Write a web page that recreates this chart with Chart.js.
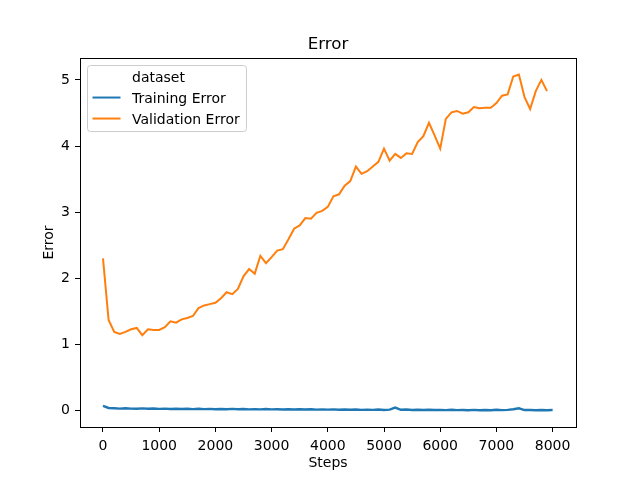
<!DOCTYPE html>
<html>
<head>
<meta charset="utf-8">
<script src="https://cdn.jsdelivr.net/npm/chart.js@4.4.1/dist/chart.umd.min.js"></script>
<style>
html,body{margin:0;padding:0;background:#fff;}
#wrap{width:640px;height:480px;}
</style>
</head>
<body>
<div id="wrap"><canvas id="c" width="640" height="480"></canvas></div>
<script>
const chartTitle = "Error";
const xLabel = "Steps";
const yLabel = "Error";
const legendTitle = "dataset";
const seriesNames = ["Training Error", "Validation Error"];
const seriesColors = ["#1f77b4", "#ff7f0e"];

const xTicks = [0, 1000, 2000, 3000, 4000, 5000, 6000, 7000, 8000];
const yTicks = [0, 1, 2, 3, 4, 5];

const trainSteps = [0,100,200,300,400,500,600,700,800,900,
  1000,1100,1200,1300,1400,1500,1600,1700,1800,1900,
  2000,2100,2200,2300,2400,2500,2600,2700,2800,2900,
  3000,3100,3200,3300,3400,3500,3600,3700,3800,3900,
  4000,4100,4200,4300,4400,4500,4600,4700,4800,4900,
  5000,5100,5200,5300,5400,5500,5600,5700,5800,5900,
  6000,6100,6200,6300,6400,6500,6600,6700,6800,6900,
  7000,7100,7200,7300,7400,7500,7600,7700,7800,7900,8000];

const trainError = [0.070,0.040,0.035,0.030,0.035,0.030,0.028,0.033,0.027,0.031,
  0.026,0.030,0.025,0.029,0.024,0.028,0.023,0.027,0.022,0.026,
  0.021,0.025,0.020,0.026,0.020,0.023,0.019,0.022,0.018,0.023,
  0.018,0.021,0.017,0.021,0.016,0.020,0.016,0.021,0.015,0.019,
  0.014,0.018,0.013,0.017,0.012,0.016,0.011,0.015,0.011,0.016,
  0.010,0.014,0.045,0.012,0.016,0.009,0.013,0.008,0.012,0.008,
  0.011,0.007,0.012,0.007,0.010,0.006,0.011,0.006,0.010,0.006,
  0.012,0.007,0.011,0.020,0.035,0.008,0.010,0.006,0.009,0.006,0.008];

const valSteps = [0,100,200,300,400,500,600,700,800,900,
  1000,1100,1200,1300,1400,1500,1600,1700,1800,1900,
  2000,2100,2200,2300,2400,2500,2600,2700,2800,2900,
  3000,3100,3200,3300,3400,3500,3600,3700,3800,3900,
  4000,4100,4200,4300,4400,4500,4600,4700,4800,4900,
  5000,5100,5200,5300,5400,5500,5600,5700,5800,5900,
  6000,6100,6200,6300,6400,6500,6600,6700,6800,6900,
  7000,7100,7200,7300,7400,7500,7600,7700,7800,7900];

const valError = [2.30,1.37,1.19,1.16,1.19,1.23,1.25,1.14,1.23,1.22,
  1.22,1.26,1.35,1.33,1.38,1.40,1.43,1.55,1.59,1.61,
  1.63,1.70,1.79,1.76,1.84,2.03,2.14,2.07,2.34,2.23,
  2.32,2.42,2.44,2.59,2.75,2.80,2.91,2.90,2.99,3.02,
  3.08,3.24,3.27,3.40,3.47,3.69,3.58,3.62,3.69,3.76,
  3.96,3.78,3.88,3.82,3.89,3.88,4.06,4.15,4.35,4.16,
  3.96,4.41,4.51,4.53,4.49,4.51,4.59,4.57,4.58,4.58,
  4.65,4.76,4.78,5.05,5.08,4.74,4.56,4.83,5.00,4.83];

const FONT = '"DejaVu Sans", sans-serif';

const framePlugin = {
  id: 'frame',
  afterDatasetsDraw(chart) {
    const a = chart.chartArea, ctx = chart.ctx;
    ctx.save();
    ctx.strokeStyle = '#000';
    ctx.lineWidth = 1;
    ctx.strokeRect(Math.round(a.left) + 0.5, Math.round(a.top) + 0.5,
                   Math.round(a.right - a.left), Math.round(a.bottom - a.top));
    ctx.restore();
  }
};

const legendPlugin = {
  id: 'mplLegend',
  afterDraw(chart) {
    const ctx = chart.ctx;
    const a = chart.chartArea;
    const x0 = a.left + 7.5, y0 = a.top + 7.5, w = 159, h = 66, r = 3;
    ctx.save();
    ctx.beginPath();
    ctx.moveTo(x0 + r, y0);
    ctx.lineTo(x0 + w - r, y0);
    ctx.arcTo(x0 + w, y0, x0 + w, y0 + r, r);
    ctx.lineTo(x0 + w, y0 + h - r);
    ctx.arcTo(x0 + w, y0 + h, x0 + w - r, y0 + h, r);
    ctx.lineTo(x0 + r, y0 + h);
    ctx.arcTo(x0, y0 + h, x0, y0 + h - r, r);
    ctx.lineTo(x0, y0 + r);
    ctx.arcTo(x0, y0, x0 + r, y0, r);
    ctx.closePath();
    ctx.fillStyle = 'rgba(255,255,255,0.8)';
    ctx.fill();
    ctx.strokeStyle = '#cccccc';
    ctx.lineWidth = 1;
    ctx.stroke();

    ctx.font = '14px ' + FONT;
    ctx.fillStyle = '#000';
    ctx.textBaseline = 'middle';
    ctx.textAlign = 'left';
    const textX = x0 + 44.5;
    ctx.fillText(legendTitle, textX, y0 + 12.5);
    chart.data.datasets.forEach((ds, i) => {
      const yy = y0 + 32 + i * 21;
      ctx.strokeStyle = ds.borderColor;
      ctx.lineWidth = 2;
      ctx.beginPath();
      ctx.moveTo(x0 + 5, yy);
      ctx.lineTo(x0 + 33, yy);
      ctx.stroke();
      ctx.fillStyle = '#000';
      ctx.fillText(ds.label, textX, yy + 1.5);
    });
    ctx.restore();
  }
};

const trainData = trainSteps.map((s, i) => ({x: s, y: trainError[i]}));
const valData = valSteps.map((s, i) => ({x: s, y: valError[i]}));

new Chart(document.getElementById('c'), {
  type: 'line',
  data: {
    datasets: [
      {label: seriesNames[0], data: trainData, borderColor: seriesColors[0], backgroundColor: seriesColors[0], borderWidth: 2.4, pointRadius: 0, tension: 0, fill: false},
      {label: seriesNames[1], data: valData, borderColor: seriesColors[1], backgroundColor: seriesColors[1], borderWidth: 2, pointRadius: 0, tension: 0, fill: false}
    ]
  },
  options: {
    responsive: false,
    animation: false,
    devicePixelRatio: 1,
    layout: {padding: {left: 0, right: 64, top: 0, bottom: 0}},
    plugins: {
      legend: {display: false},
      tooltip: {enabled: false},
      title: {
        display: true, text: chartTitle, fullSize: false, color: '#000',
        font: {family: FONT, size: 16.7, weight: 'normal', lineHeight: 1.2},
        padding: {top: 35, bottom: 3}
      }
    },
    scales: {
      x: {
        type: 'linear', min: -409, max: 8416,
        afterBuildTicks: (s) => { s.ticks = xTicks.map(v => ({value: v})); },
        afterFit: (s) => { s.height = 53; },
        ticks: {color: '#000', font: {family: FONT, size: 14}, padding: 6, maxRotation: 0, autoSkip: false,
                callback: (v) => String(v)},
        grid: {display: true, drawOnChartArea: false, drawTicks: true, tickLength: 5, tickColor: '#000', tickWidth: 1},
        border: {display: false},
        title: {display: true, text: xLabel, color: '#000', font: {family: FONT, size: 14}, padding: {top: 0, bottom: 8}}
      },
      y: {
        type: 'linear', min: -0.248, max: 5.33,
        afterBuildTicks: (s) => { s.ticks = yTicks.map(v => ({value: v})); },
        afterFit: (s) => { s.width = 80; },
        ticks: {color: '#000', font: {family: FONT, size: 14}, padding: 5, autoSkip: false,
                callback: (v) => String(v)},
        grid: {display: true, drawOnChartArea: false, drawTicks: true, tickLength: 5, tickColor: '#000', tickWidth: 1},
        border: {display: false},
        title: {display: true, text: yLabel, color: '#000', font: {family: FONT, size: 14}, padding: {top: 41, bottom: 0}}
      }
    }
  },
  plugins: [framePlugin, legendPlugin]
});
</script>
</body>
</html>
